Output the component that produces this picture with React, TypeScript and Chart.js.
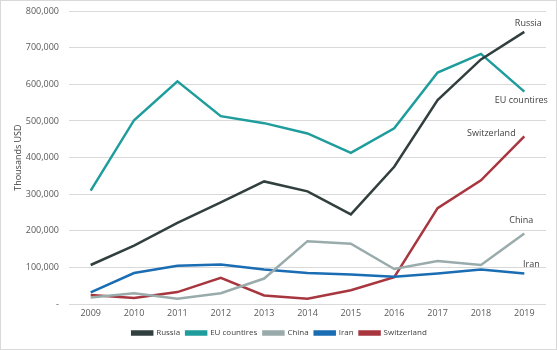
import React, { useEffect, useRef } from "react";
import { Chart, registerables } from "chart.js";

Chart.register(...registerables);

const years = ["2009", "2010", "2011", "2012", "2013", "2014", "2015", "2016", "2017", "2018", "2019"];
const russia = [107000, 160000, 222000, 278000, 335000, 308000, 245000, 375000, 557000, 668000, 743000];
const eu = [310000, 502000, 608000, 513000, 494000, 466000, 413000, 480000, 632000, 683000, 580000];
const china = [18000, 30000, 15000, 30000, 70000, 172000, 165000, 96000, 118000, 107000, 193000];
const iran = [32000, 85000, 105000, 108000, 95000, 85000, 81000, 75000, 84000, 95000, 84000];
const switzerland = [25000, 17000, 33000, 72000, 24000, 15000, 38000, 74000, 262000, 338000, 458000];
const seriesNames = ["Russia", "EU countires", "China", "Iran", "Switzerland"];
const endLabels = ["Russia", "EU countires", "China", "Iran", "Switzerland"];

const colors = ["#323f3f", "#1f9c9c", "#9aabab", "#1a6db3", "#a8363f"];
const labelOffsets = [
  [4, -8],
  [-3, 9],
  [-3, -13],
  [7, -9],
  [-33, -3],
];

const endLabelPlugin = {
  id: "endLabels",
  afterDatasetsDraw(chart: any) {
    const ctx = chart.ctx;
    ctx.save();
    ctx.font = "9px 'Open Sans'";
    ctx.fillStyle = "#404040";
    ctx.textAlign = "center";
    ctx.textBaseline = "middle";
    chart.data.datasets.forEach((ds: any, i: number) => {
      const meta = chart.getDatasetMeta(i);
      const pt = meta.data[meta.data.length - 1];
      if (!pt) return;
      ctx.fillText(endLabels[i], pt.x + labelOffsets[i][0], pt.y + labelOffsets[i][1]);
    });
    ctx.restore();
  },
};

export default function App() {
  const ref = useRef<HTMLCanvasElement>(null);
  useEffect(() => {
    const data = [russia, eu, china, iran, switzerland];
    const chart = new Chart(ref.current!, {
      type: "line",
      data: {
        labels: years,
        datasets: data.map((d, i) => ({
          label: seriesNames[i],
          data: d,
          borderColor: colors[i],
          backgroundColor: colors[i],
          borderWidth: 2.5,
          pointRadius: 0,
          tension: 0,
        })),
      },
      options: {
        animation: false,
        responsive: false,
        maintainAspectRatio: false,
        layout: { padding: { top: 0, right: 10, left: 12, bottom: 2 } },
        plugins: {
          legend: {
            position: "bottom",
            labels: {
              boxWidth: 20,
              boxHeight: 3,
              padding: 6,
              color: "#404040",
              font: { family: "'Open Sans'", size: 8 },
            },
          },
          tooltip: { enabled: false },
        },
        scales: {
          x: {
            offset: true,
            grid: { display: false, drawTicks: false },
            border: { display: false },
            ticks: { color: "#595959", font: { family: "'Open Sans'", size: 9 }, padding: 4 },
          },
          y: {
            min: 0,
            max: 800000,
            afterFit: (s: any) => {
              s.width = 56;
              s.paddingTop = 10;
            },
            grid: { color: "#d9d9d9", drawTicks: false },
            border: { display: false },
            title: {
              display: true,
              text: "Thousands USD",
              color: "#404040",
              font: { family: "'Open Sans'", size: 9 },
              padding: 0,
            },
            ticks: {
              stepSize: 100000,
              color: "#595959",
              padding: 10,
              font: { family: "'Open Sans'", size: 9 },
              callback: (v: any) => (v === 0 ? "-" : Number(v).toLocaleString("en-US")),
            },
          },
        },
      },
      plugins: [endLabelPlugin],
    });
    return () => chart.destroy();
  }, []);
  return (
    <div
      style={{
        position: "fixed",
        left: 0,
        top: 0,
        width: 557,
        height: 350,
        boxSizing: "border-box",
        border: "1px solid #d9d9d9",
        background: "#fff",
      }}
    >
      <canvas ref={ref} width={555} height={348} style={{ display: "block" }} />
    </div>
  );
}
